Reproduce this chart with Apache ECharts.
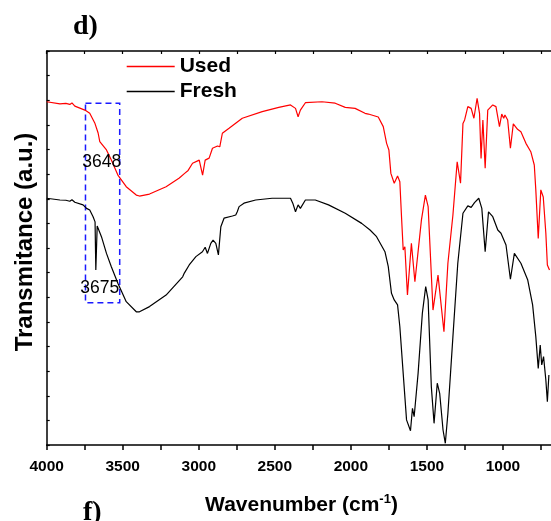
<!DOCTYPE html>
<html>
<head>
<meta charset="utf-8">
<script src="https://cdn.jsdelivr.net/npm/echarts@6/dist/echarts.min.js"></script>
<style>
html,body{margin:0;padding:0;overflow:hidden;background:#fff;width:551px;height:521px;}
#c{width:582px;height:521px;}
</style>
</head>
<body>
<div id="c"></div>
<script>
// [wavenumber (cm-1), transmittance (a.u.)]
const usedData = [
[4000,13.94],[3913,13.85],[3874,13.87],[3861,13.91],[3848,13.83],[3834,13.89],[3815,13.76],[3749,13.60],[3717,13.47],
[3684,13.08],[3662,12.67],[3651,12.32],[3640,12.39],[3607,11.98],[3575,11.57],[3532,10.96],
[3477,10.49],[3411,10.15],[3390,10.11],[3324,10.19],[3215,10.49],[3128,10.84],[3095,11.02],
[3084,10.96],[3070,11.15],[3041,11.44],[3030,11.50],[2997,11.57],[2975,10.96],[2958,11.57],
[2932,11.65],[2910,12.05],[2877,12.14],[2862,12.11],[2845,12.66],[2801,12.86],[2714,13.27],
[2583,13.54],[2474,13.71],[2397,13.81],[2364,13.67],[2347,13.33],[2332,13.60],[2299,13.90],
[2190,13.94],[2103,13.88],[2037,13.71],[1972,13.67],[1907,13.47],[1885,13.44],[1820,13.32],
[1787,12.93],[1765,12.25],[1750,11.98],[1737,11.03],[1715,10.63],[1693,10.92],[1678,10.69],
[1667,9.27],[1656,7.92],[1645,8.05],[1628,6.09],[1602,8.19],[1579,6.63],[1569,6.70],
[1536,9.14],[1510,10.15],[1492,9.68],[1460,5.48],[1427,6.90],[1388,4.60],[1362,7.38],
[1329,9.34],[1301,11.50],[1279,10.63],[1263,13.06],[1252,13.20],[1231,13.74],[1209,13.67],
[1191,13.27],[1170,14.08],[1154,13.47],[1144,11.64],[1132,13.20],[1117,11.24],[1100,13.60],
[1067,13.81],[1046,13.74],[1023,12.93],[1008,13.44],[995,13.27],[987,13.40],[969,13.20],
[951,12.05],[932,13.04],[904,12.82],[882,12.72],[849,12.25],[817,11.91],[794,11.37],
[784,10.36],[768,8.39],[751,10.36],[735,10.07],[718,8.60],[708,7.31],[694,7.11]
];
const freshData = [
[4000,10.02],[3913,9.95],[3874,9.94],[3861,9.99],[3848,9.90],[3834,9.96],[3815,9.86],[3761,9.75],[3738,9.61],[3717,9.54],
[3695,9.27],[3682,9.06],[3677,7.11],[3668,8.89],[3662,8.93],[3640,8.46],[3607,7.78],
[3575,7.24],[3532,6.57],[3477,5.82],[3411,5.41],[3390,5.41],[3324,5.62],[3215,6.09],
[3106,6.83],[3095,6.98],[3084,7.04],[3063,7.31],[3019,7.65],[2976,7.85],[2958,8.03],
[2943,7.78],[2921,8.19],[2906,8.32],[2888,8.19],[2871,7.72],[2855,8.86],[2834,9.21],
[2779,9.30],[2757,9.34],[2747,9.47],[2735,9.68],[2703,9.82],[2626,9.95],[2518,10.02],
[2397,10.02],[2382,9.82],[2364,9.47],[2347,9.75],[2332,9.61],[2299,9.95],[2234,9.95],
[2147,9.75],[2037,9.41],[1929,9.00],[1874,8.73],[1831,8.46],[1776,7.85],[1754,7.24],
[1733,6.16],[1715,5.89],[1693,5.69],[1678,4.80],[1656,2.91],[1634,1.02],[1623,0.95],
[1608,0.58],[1595,1.49],[1584,1.15],[1558,2.91],[1530,5.35],[1508,6.43],[1492,5.89],
[1471,2.37],[1453,0.88],[1432,2.51],[1416,2.10],[1394,0.61],[1379,0.07],[1362,1.29],
[1329,4.40],[1297,7.38],[1263,9.41],[1231,9.71],[1209,9.65],[1187,9.84],[1159,10.02],
[1139,9.61],[1117,7.85],[1095,9.47],[1067,9.27],[1034,8.73],[1013,8.60],[980,8.12],
[951,6.73],[925,7.78],[882,7.38],[837,6.70],[805,5.69],[784,4.40],[768,3.11],[755,4.06],
[745,3.25],[733,3.59],[718,2.64],[708,1.76],[698,2.84]
];
const seriesNames = ['Used', 'Fresh'];
const xTickLabels = [4000, 3500, 3000, 2500, 2000, 1500, 1000];
// dashed highlight box: [wavenumber, T] corners
const boxCorners = [[3745, 13.88], [3520, 5.78]];
// peak annotations: [label, wavenumber, T]
const peakLabels = [['3648', 3638, 11.50], ['3675', 3651, 6.36]];

const chart = echarts.init(document.getElementById('c'), null, {renderer: 'canvas'});
const font = 'Liberation Sans, Arial, sans-serif';
const axisCommon = {
  type: 'value', inverse: true, min: 500, max: 4000, interval: 250,
  splitLine: {show: false},
  axisLine: {show: true, onZero: false, lineStyle: {color: '#000', width: 1.5}}
};
chart.setOption({
  animation: false,
  backgroundColor: '#fff',
  grid: {left: 46.7, right: 0, top: 51, bottom: 76},
  legend: {
    data: seriesNames, orient: 'vertical', left: 126.7, top: 56, padding: 0,
    icon: 'rect', itemWidth: 48, itemHeight: 1.5, itemGap: 4,
    textStyle: {fontFamily: font, fontWeight: 'bold', fontSize: 21, color: '#000'}
  },
  xAxis: [
    Object.assign({}, axisCommon, {
      position: 'bottom',
      axisTick: {show: true, inside: false, length: 5, lineStyle: {color: '#000', width: 1.5}},
      axisLabel: {
        show: true, margin: 14, color: '#000', fontFamily: font, fontWeight: 'bold', fontSize: 15.5,
        formatter: v => (xTickLabels.indexOf(v) >= 0 ? String(v) : '')
      }
    }),
    Object.assign({}, axisCommon, {
      position: 'top',
      axisTick: {show: true, inside: true, length: 3, lineStyle: {color: '#000', width: 1.2}},
      axisLabel: {show: false}
    })
  ],
  yAxis: {
    type: 'value', min: 0, max: 16, interval: 1,
    splitLine: {show: false},
    axisLine: {show: true, lineStyle: {color: '#000', width: 1.5}},
    axisTick: {show: true, inside: true, length: 3, lineStyle: {color: '#000', width: 1.2}},
    axisLabel: {show: false}
  },
  series: [
    {
      name: seriesNames[0], type: 'line', data: usedData, showSymbol: false, color: '#ff0000',
      lineStyle: {color: '#ff0000', width: 1.2}
    },
    {
      name: seriesNames[1], type: 'line', data: freshData, showSymbol: false, color: '#000000',
      lineStyle: {color: '#000000', width: 1.2},
      markArea: {
        silent: true,
        itemStyle: {color: 'rgba(0,0,0,0)', borderColor: '#1a1aff', borderWidth: 1.5, borderType: [6, 4]},
        data: [[{coord: boxCorners[0]}, {coord: boxCorners[1]}]]
      },
      markPoint: {
        silent: true, symbol: 'circle', symbolSize: 1,
        itemStyle: {color: 'rgba(0,0,0,0)'},
        label: {show: true, position: 'inside', color: '#000', fontFamily: font, fontSize: 17.5,
          formatter: p => p.name},
        data: peakLabels.map(p => ({name: p[0], coord: [p[1], p[2]]}))
      }
    }
  ],
  graphic: [
    {type: 'text', left: 73, top: 13, style: {text: 'd)', font: 'bold 28px "Liberation Serif", "Times New Roman", serif', fill: '#000'}},
    {type: 'text', left: 83, top: 499, style: {text: 'f)', font: 'bold 28px "Liberation Serif", "Times New Roman", serif', fill: '#000'}},
    {type: 'text', x: 301.5, y: 505, style: {
      text: '{m|Wavenumber (cm}{s|-1}{m|)}', align: 'center', verticalAlign: 'middle',
      rich: {
        m: {fontFamily: font, fontWeight: 'bold', fontSize: 21, fill: '#000'},
        s: {fontFamily: font, fontWeight: 'bold', fontSize: 13, fill: '#000', padding: [0, 0, 11, 0]}
      }
    }},
    {type: 'text', x: 25, y: 242, rotation: Math.PI / 2, style: {
      text: 'Transmitance (a.u.)', align: 'center', verticalAlign: 'middle',
      font: 'bold 24px "Liberation Sans", Arial, sans-serif', fill: '#000'
    }}
  ]
});
</script>
</body>
</html>
